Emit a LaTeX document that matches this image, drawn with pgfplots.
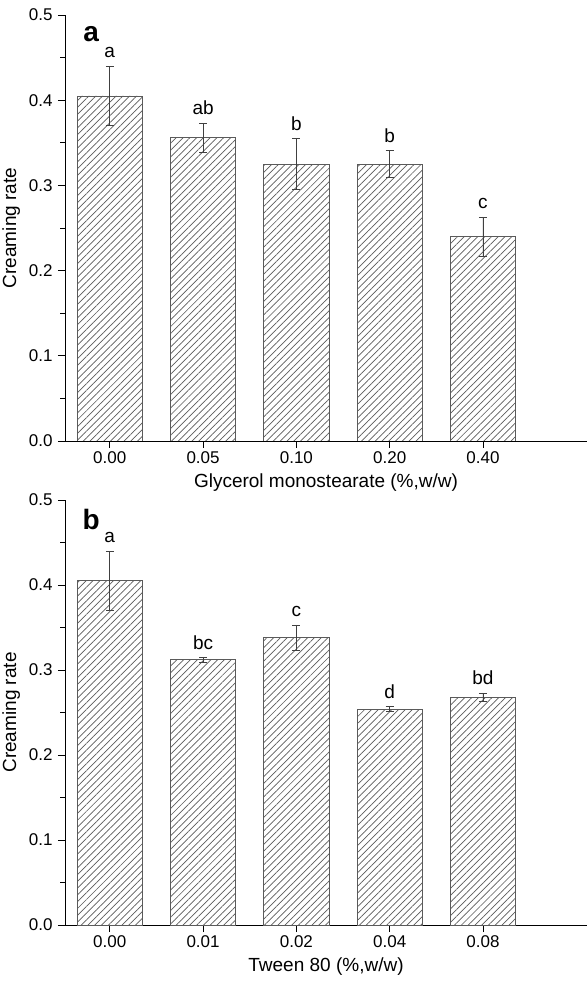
\documentclass[border=0pt]{standalone}
\usepackage{pgfplots}
\pgfplotsset{compat=1.18}
\usetikzlibrary{patterns.meta}
\usepackage{fontspec}
\setmainfont{Liberation Sans}
\definecolor{hatch}{HTML}{5A5A5A}
\definecolor{errc}{HTML}{404040}
\pgfplotsset{
  panel/.style={
    scale only axis, width=522pt, height=426pt,
    xmin=-0.48, xmax=5.115, ymin=0, ymax=0.5,
    axis x line*=bottom, axis y line*=left,
    axis line style={black, line width=0.9pt},
    ytick={0,0.1,0.2,0.3,0.4,0.5}, minor y tick num=1,
    xtick={0,1,2,3,4},
    tick align=outside, major tick length=7pt, minor tick length=4.5pt,
    tick style={black, line width=0.9pt},
    /pgf/number format/assume math mode=true,
    yticklabel style={/pgf/number format/.cd, fixed, fixed zerofill, precision=1, /tikz/.cd, xshift=-2pt},
    ticklabel style={font=\fontsize{17}{20}\selectfont},
    label style={font=\fontsize{19}{23}\selectfont},
    ylabel={Creaming rate},
    ylabel style={yshift=2pt},
    xlabel style={yshift=-3pt},
  },
  barstyle/.style={ybar, bar width=0.7, draw=hatch, line width=0.7pt,
    pattern={Lines[angle=45, distance=4.8pt, line width=0.7pt]}, pattern color=hatch,
    error bars/.cd, y dir=both, y explicit,
    error bar style={errc, line width=0.7pt},
    error mark options={rotate=90, mark size=4pt, errc, line width=0.7pt}},
  letters/.style={only marks, mark=none, nodes near coords, point meta=explicit symbolic,
    nodes near coords style={anchor=south, yshift=4.5pt, font=\fontsize{19}{23}\selectfont, text=black}},
}
\begin{document}
\begin{tikzpicture}
\useasboundingbox (0,0) rectangle (587pt,986pt);
\begin{axis}[panel, at={(65pt,545pt)}, anchor=south west,
  xticklabels={0.00,0.05,0.10,0.20,0.40},
  xlabel={Glycerol monostearate (\%,w/w)}]
\addplot[barstyle] coordinates {
  (0,0.405) +- (0,0.035)
  (1,0.356) +- (0,0.017)
  (2,0.325) +- (0,0.030)
  (3,0.325) +- (0,0.016)
  (4,0.240) +- (0,0.023)
};
\addplot[letters] coordinates {
  (0,0.440) [a]
  (1,0.373) [ab]
  (2,0.355) [b]
  (3,0.341) [b]
  (4,0.263) [c]
};
\node[font=\fontsize{28}{32}\selectfont\bfseries, anchor=center] at (rel axis cs:0.05,0.955) {a};
\end{axis}
\begin{axis}[panel, at={(65pt,61pt)}, anchor=south west, height=425pt,
  xticklabels={0.00,0.01,0.02,0.04,0.08},
  xlabel={Tween 80 (\%,w/w)}]
\addplot[barstyle] coordinates {
  (0,0.405) +- (0,0.035)
  (1,0.312) +- (0,0.003)
  (2,0.338) +- (0,0.015)
  (3,0.254) +- (0,0.003)
  (4,0.268) +- (0,0.005)
};
\addplot[letters] coordinates {
  (0,0.440) [a]
  (1,0.315) [bc]
  (2,0.353) [c]
  (3,0.257) [d]
  (4,0.273) [bd]
};
\node[font=\fontsize{28}{32}\selectfont\bfseries, anchor=center] at (rel axis cs:0.05,0.955) {b};
\end{axis}
\end{tikzpicture}
\end{document}
